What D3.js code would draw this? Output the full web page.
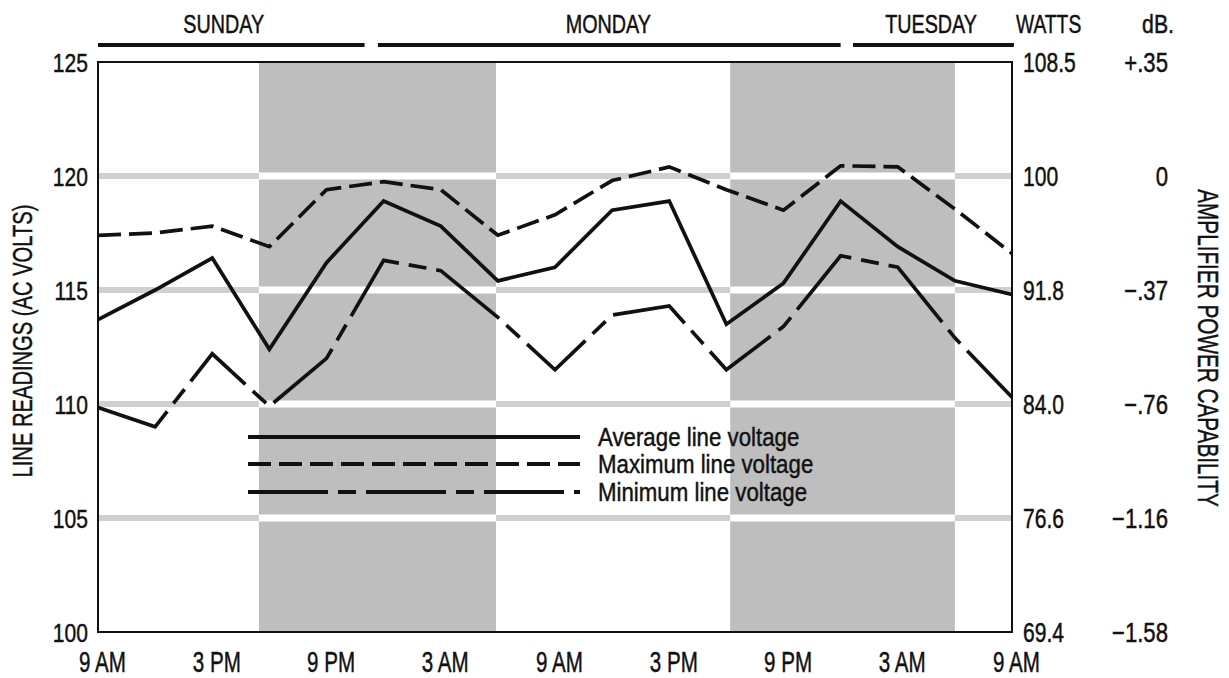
<!DOCTYPE html>
<html>
<head>
<meta charset="utf-8">
<script src="https://cdn.jsdelivr.net/npm/d3@7"></script>
<style>
  html, body { margin: 0; padding: 0; background: #fff; }
  svg { display: block; }
  text { font-family: "Liberation Sans", Arial, sans-serif; fill: #111; stroke: #111; stroke-width: 0.45px; }
</style>
</head>
<body>
<svg id="chart" width="1229" height="678"></svg>
<script>
// ---- data ----
const hours = [0, 3, 6, 9, 12, 15, 18, 21, 24, 27, 30, 33, 36, 39, 42, 45, 48];
const averageVoltage = [113.7, 115.0, 116.4, 112.4, 116.2, 118.9, 117.8, 115.4, 116.0, 118.5, 118.9, 113.5, 115.3, 118.9, 116.9, 115.4, 114.8];
const maximumVoltage = [117.4, 117.5, 117.8, 116.9, 119.4, 119.75, 119.4, 117.4, 118.3, 119.8, 120.4, 119.4, 118.5, 120.45, 120.4, 118.55, 116.6];
const minimumVoltage = [109.85, 109.0, 112.2, 109.9, 112.0, 116.3, 115.85, 113.8, 111.5, 113.9, 114.3, 111.5, 113.4, 116.5, 116.0, 112.9, 110.3];

const xTickHours = [0, 6, 12, 18, 24, 30, 36, 42, 48];
const xTickLabels = ["9 AM", "3 PM", "9 PM", "3 AM", "9 AM", "3 PM", "9 PM", "3 AM", "9 AM"];
const voltTicks = [125, 120, 115, 110, 105, 100];
const gridVolts = [120, 115, 110, 105];
const wattLabels = ["108.5", "100", "91.8", "84.0", "76.6", "69.4"];
const dbLabels = ["+.35", "0", "\u2212.37", "\u2212.76", "\u22121.16", "\u22121.58"];
const nightStart = [8.45, 33.2];
const nightEnd = [20.9, 45.0];
const dayNames = ["SUNDAY", "MONDAY", "TUESDAY"];
const dayBarStart = [0, 14.7, 39.65];
const dayBarEnd = [14.0, 39.0, 48.1];
const dayLabelAt = [6.6, 26.8, 43.75];
const legendLabels = ["Average line voltage", "Maximum line voltage", "Minimum line voltage"];

// ---- layout ----
const svg = d3.select("#chart");
const x = d3.scaleLinear().domain([0, 48]).range([98, 1012]);
const y = d3.scaleLinear().domain([100, 125]).range([632, 62]);

// narrow the glyphs horizontally, like a condensed typeface
function condense(sel, k) {
  sel.each(function () {
    const w = this.getComputedTextLength();
    d3.select(this).attr("textLength", w * k).attr("lengthAdjust", "spacingAndGlyphs");
  });
}

const series = [
  { values: averageVoltage, dash: null },
  { values: maximumVoltage, dash: "23,8" },
  { values: minimumVoltage, dash: "80,10,18,10" }
];

// grid bands (gray on white areas)
svg.append("g").selectAll("rect").data(gridVolts).join("rect")
  .attr("x", x(0)).attr("width", x(48) - x(0))
  .attr("y", d => y(d) - 3).attr("height", 6)
  .attr("fill", "#d0d0d0");

// night shading
const nights = nightStart.map((s, i) => ({ s, e: nightEnd[i] }));
svg.append("g").selectAll("rect").data(nights).join("rect")
  .attr("x", d => x(d.s)).attr("width", d => x(d.e) - x(d.s))
  .attr("y", y(125)).attr("height", y(100) - y(125))
  .attr("fill", "#bebebe");

// white grid bands inside shading
const whiteBands = [];
nights.forEach(n => gridVolts.forEach(v => whiteBands.push({ n, v })));
svg.append("g").selectAll("rect").data(whiteBands).join("rect")
  .attr("x", d => x(d.n.s)).attr("width", d => x(d.n.e) - x(d.n.s))
  .attr("y", d => y(d.v) - 3.5).attr("height", 7)
  .attr("fill", "#ffffff");

// frame
svg.append("rect")
  .attr("x", x(0)).attr("y", y(125))
  .attr("width", x(48) - x(0)).attr("height", y(100) - y(125))
  .attr("fill", "none").attr("stroke", "#111").attr("stroke-width", 2);

// lines
const line = d3.line().x((d, i) => x(hours[i])).y(d => y(d));
svg.append("g").selectAll("path").data(series).join("path")
  .attr("d", d => line(d.values))
  .attr("fill", "none").attr("stroke", "#111").attr("stroke-width", 3.7)
  .attr("stroke-linejoin", "miter")
  .attr("stroke-dasharray", d => d.dash);

// left axis
const left = svg.append("g").attr("transform", `translate(${x(0)},0)`)
  .call(d3.axisLeft(y).tickValues(voltTicks).tickSize(0).tickPadding(10).tickFormat(d3.format("d")));
left.select(".domain").remove();
left.selectAll("text").style("font-size", "26px").attr("dy", "0.36em").call(condense, 0.81);

// right axis (watts) & dB
const right = svg.append("g").attr("transform", `translate(${x(48)},0)`)
  .call(d3.axisRight(y).tickValues(voltTicks).tickSize(0).tickPadding(11).tickFormat((d, i) => wattLabels[i]));
right.select(".domain").remove();
right.selectAll("text").style("font-size", "27px").attr("dy", "0.36em").call(condense, 0.78);

svg.append("g").selectAll("text").data(voltTicks).join("text")
  .attr("x", 1168).attr("y", d => y(d)).attr("dy", "0.36em")
  .attr("text-anchor", "end").style("font-size", "27px")
  .text((d, i) => dbLabels[i])
  .call(condense, 0.82);

// bottom axis
const bottom = svg.append("g").attr("transform", `translate(4,${y(100)})`)
  .call(d3.axisBottom(x).tickValues(xTickHours).tickSize(0).tickPadding(19).tickFormat((d, i) => xTickLabels[i]));
bottom.select(".domain").remove();
bottom.selectAll("text").style("font-size", "29px").attr("dy", "0.71em").call(condense, 0.71);

// header
svg.append("g").selectAll("line").data(dayNames).join("line")
  .attr("x1", (d, i) => x(dayBarStart[i])).attr("x2", (d, i) => x(dayBarEnd[i]))
  .attr("y1", 45).attr("y2", 45)
  .attr("stroke", "#111").attr("stroke-width", 4);
svg.append("g").selectAll("text").data(dayNames).join("text")
  .attr("x", (d, i) => x(dayLabelAt[i])).attr("y", 33)
  .attr("text-anchor", "middle").style("font-size", "25px")
  .text(d => d)
  .call(condense, 0.79);
svg.append("text").attr("x", 1016).attr("y", 33).style("font-size", "25px").text("WATTS").call(condense, 0.77);
svg.append("text").attr("x", 1174).attr("y", 33).attr("text-anchor", "end").style("font-size", "25px").text("dB.").call(condense, 0.85);

// axis titles
svg.append("text")
  .attr("transform", `translate(32,341) rotate(-90)`)
  .attr("text-anchor", "middle").style("font-size", "28px")
  .text("LINE READINGS (AC VOLTS)")
  .call(condense, 0.72);
svg.append("text")
  .attr("transform", `translate(1198,348) rotate(90)`)
  .attr("text-anchor", "middle").style("font-size", "29px")
  .text("AMPLIFIER POWER CAPABILITY")
  .call(condense, 0.715);

// legend
const legendY = [437, 464, 492];
const lg = svg.append("g");
lg.selectAll("line").data(series).join("line")
  .attr("x1", 248).attr("x2", 580)
  .attr("y1", (d, i) => legendY[i]).attr("y2", (d, i) => legendY[i])
  .attr("stroke", "#111").attr("stroke-width", 4)
  .attr("stroke-dasharray", d => d.dash);
lg.selectAll("text").data(legendLabels).join("text")
  .attr("x", 598).attr("y", (d, i) => legendY[i] + 9)
  .style("font-size", "26.5px")
  .text(d => d)
  .call(condense, 0.84);
</script>
</body>
</html>
